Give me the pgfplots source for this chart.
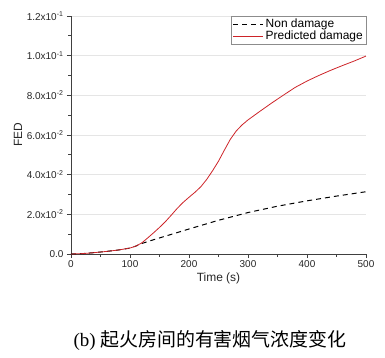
\documentclass[border=0pt]{standalone}
\usepackage{pgfplots}
\pgfplotsset{compat=1.18}
\usepackage{fontspec}
\setmainfont{Liberation Sans}
\newfontfamily\capserif{Liberation Serif}
\newfontfamily\cjk{Noto Sans CJK SC}
\definecolor{predred}{RGB}{205,35,40}
\begin{document}
\begin{tikzpicture}
\useasboundingbox (-71bp,-104bp) rectangle (314bp,254bp);
\begin{axis}[
  at={(0,0)}, anchor=south west,
  scale only axis, width=295bp, height=238bp,
  xmin=0, xmax=500, ymin=0, ymax=0.12,
  axis lines=left,
  axis line style={-, line width=0.9pt, color=black!75},
  tick align=outside,
  major tick length=4bp, minor tick length=2.5bp,
  tick style={line width=0.7pt, color=black!75},
  xtick={0,100,200,300,400,500},
  minor xtick={50,150,250,350,450},
  ytick={0,0.02,0.04,0.06,0.08,0.1,0.12},
  minor ytick={0.01,0.03,0.05,0.07,0.09,0.11},
  yticklabels={0.0, 2.0x10\textsuperscript{-2}, 4.0x10\textsuperscript{-2}, 6.0x10\textsuperscript{-2}, 8.0x10\textsuperscript{-2}, 1.0x10\textsuperscript{-1}, 1.2x10\textsuperscript{-1}},
  scaled y ticks=false,
  /pgf/number format/assume math mode=true,
  ymajorgrids, major grid style={black!10, line width=0.5pt},
  tick label style={font=\fontsize{10}{11}\selectfont, color=black!85},
  xticklabel style={yshift=1bp},
  xlabel={Time (s)}, ylabel={FED},
  label style={font=\fontsize{12}{13}\selectfont, color=black!85},
  xlabel style={yshift=2bp},
  ylabel style={yshift=-2bp},
  legend style={at={(axis cs:500,0.12)}, anchor=north east, draw=black!45, line width=0.5pt,
    font=\fontsize{12}{13}\selectfont, inner sep=1pt, row sep=-2.5pt,
    cells={anchor=west}},
  legend image code/.code={\draw[#1] (0cm,0cm) -- (30bp,0cm);},
]
\addplot[black, line width=1.0pt, dash pattern=on 5bp off 4bp] coordinates {
(0,0) (20,0.0002) (40,0.0007) (60,0.0013) (80,0.002) (100,0.003) (110,0.004) (120,0.0053)
(140,0.0072) (160,0.009) (180,0.0108) (200,0.0126) (250,0.017) (300,0.0209)
(350,0.0241) (400,0.0268) (450,0.0292) (500,0.0314)};
\addlegendentry{Non damage}
\addplot[predred, line width=0.8pt] coordinates {
(0,0) (20,0.0002) (40,0.0007) (60,0.0013) (80,0.002) (100,0.003) (110,0.0040) (120,0.0056)
(130,0.0081) (140,0.0107) (150,0.0134) (160,0.0163) (170,0.0196) (180,0.0230) (190,0.0260)
(200,0.0286) (210,0.0311) (220,0.0339) (230,0.0376) (240,0.0420) (250,0.0468) (260,0.0524)
(270,0.0578) (280,0.0620) (290,0.0651) (300,0.0676) (320,0.0719) (340,0.0761) (360,0.0801)
(380,0.0840) (400,0.0872) (420,0.0900) (440,0.0926) (460,0.0950) (480,0.0973) (500,0.0998)};
\addlegendentry{Predicted damage}
\end{axis}
\node[font=\fontsize{19}{21}\selectfont, anchor=center] at (139bp,-86bp) {\capserif(b)\ \cjk 起火房间的有害烟气浓度变化};
\end{tikzpicture}
\end{document}
